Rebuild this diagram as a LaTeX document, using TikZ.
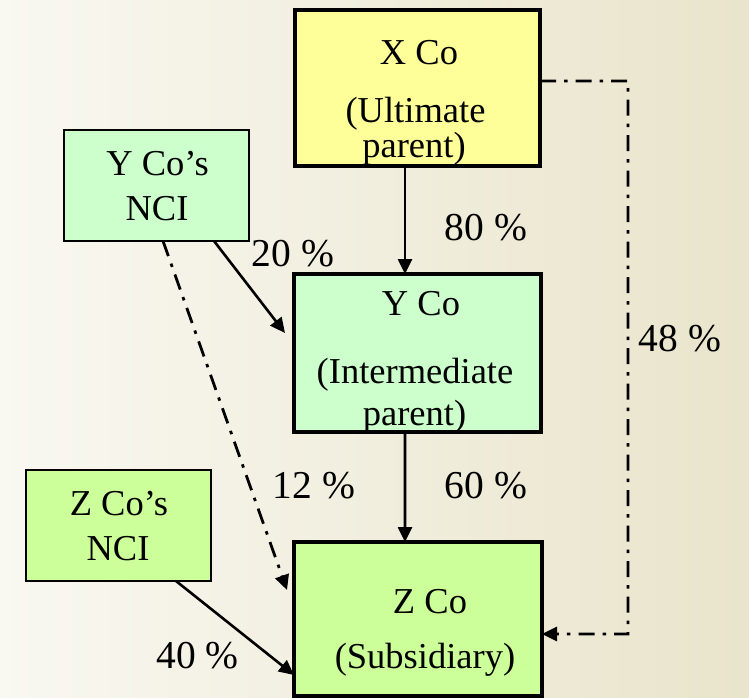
\documentclass[tikz,border=0pt]{standalone}
\usepackage{fontspec}
\setmainfont{Liberation Serif}
\usetikzlibrary{arrows.meta}
\definecolor{bgl}{RGB}{249,248,241}
\definecolor{bgr}{RGB}{233,228,203}
\definecolor{xfill}{RGB}{255,255,153}
\definecolor{yfill}{RGB}{204,255,204}
\definecolor{zfill}{RGB}{204,255,153}
\tikzset{
  bigbox/.style={draw=black, line width=3.8bp, inner sep=0pt, outer sep=0pt},
  ncibox/.style={draw=black, line width=2.6bp, inner sep=0pt, outer sep=0pt},
  boxtext/.style={anchor=base, inner sep=0pt, font=\fontsize{36.5bp}{40bp}\selectfont},
  pct/.style={anchor=base, inner sep=0pt, font=\fontsize{39.5bp}{44bp}\selectfont},
  tip/.style={-{Triangle[length=15bp,width=14bp]}},
  solidarr/.style={tip, line width=2.6bp},
  dasharr/.style={tip, line width=2.8bp, dash pattern=on 16bp off 8bp on 3.5bp off 8bp}
}
\begin{document}
\begin{tikzpicture}[x=1bp,y=-1bp]
  % page background
  \shade[left color=bgl, right color=bgr] (0,0) rectangle (749,698);
  \useasboundingbox (0,0) rectangle (749,698);

  % boxes
  \node[bigbox, fill=xfill, minimum width=245bp, minimum height=156bp] (xco) at (417.5,88) {};
  \node[ncibox, fill=yfill, minimum width=185bp, minimum height=111bp] (ynci) at (156.5,185.5) {};
  \node[bigbox, fill=yfill, minimum width=247bp, minimum height=158bp] (yco) at (417.5,353) {};
  \node[ncibox, fill=zfill, minimum width=185bp, minimum height=111bp] (znci) at (118.5,525.5) {};
  \node[bigbox, fill=zfill, minimum width=248bp, minimum height=154bp] (zco) at (418,619) {};

  % box texts
  \node[boxtext] (xco-1) at (419,65) {X Co};
  \node[boxtext] (xco-2) at (415.5,123) {(Ultimate};
  \node[boxtext] (xco-3) at (414,157) {parent)};
  \node[boxtext] (ynci-1) at (157.5,175) {Y Co’s};
  \node[boxtext] (ynci-2) at (157,220.5) {NCI};
  \node[boxtext] (yco-1) at (421,315) {Y Co};
  \node[boxtext] (yco-2) at (415,383) {(Intermediate};
  \node[boxtext] (yco-3) at (414.5,425) {parent)};
  \node[boxtext] (znci-1) at (119,515) {Z Co’s};
  \node[boxtext] (znci-2) at (118,560) {NCI};
  \node[boxtext] (zco-1) at (430,613) {Z Co};
  \node[boxtext] (zco-2) at (425,668) {(Subsidiary)};

  % free ends of connectors
  \coordinate (ytip) at (285,333);
  \coordinate (ztip) at (287,590);
  \coordinate (cbot) at (628,634);

  % ownership links
  \draw[solidarr] ([xshift=-12.5bp]xco.south) -- ([xshift=-12.5bp]yco.north);
  \draw[solidarr] ([xshift=-12.5bp]yco.south) -- ([xshift=-13bp]zco.north);
  \draw[solidarr] ([xshift=57.5bp]ynci.south) -- (ytip);
  \draw[solidarr] ([xshift=57.5bp]znci.south) -- ([yshift=-56bp]zco.west);
  \draw[dasharr] ([xshift=6.5bp]ynci.south) -- (ztip);
  \draw[dasharr] ([yshift=7bp]xco.east) -| (cbot) -- ([yshift=-15bp]zco.east);

  % percentages
  \node[pct] (p80) at (486,240) {80 \%};
  \node[pct] (p20) at (293,266.5) {20 \%};
  \node[pct] (p48) at (680,351) {48 \%};
  \node[pct] (p12) at (314,498) {12 \%};
  \node[pct] (p60) at (486,498) {60 \%};
  \node[pct] (p40) at (197.5,668) {40 \%};
\end{tikzpicture}
\end{document}
